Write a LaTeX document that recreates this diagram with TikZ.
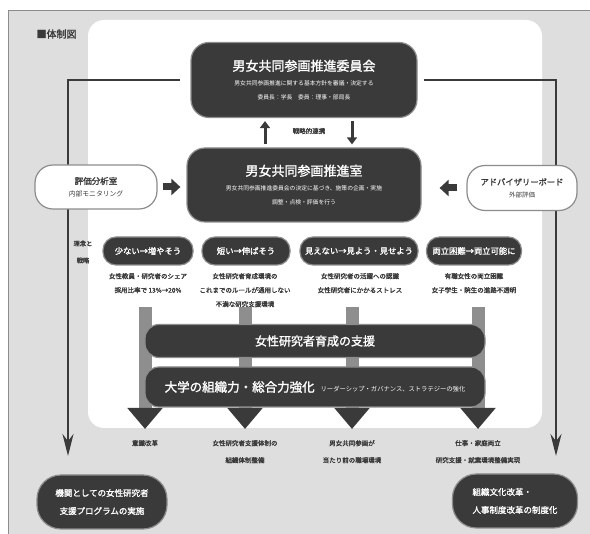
\documentclass[tikz,border=0pt]{standalone}
\usepackage{fontspec}
\newfontfamily\jp{Noto Sans CJK JP}
\newfontfamily\jpb[FakeBold=1.6]{Noto Sans CJK JP}
\usetikzlibrary{arrows.meta}

\definecolor{boxdark}{HTML}{3A3A3A}
\definecolor{panelgray}{HTML}{DEDEDE}
\definecolor{rimgray}{HTML}{8C8C8C}
\definecolor{shaftgray}{HTML}{8E8E8E}

\tikzset{
	darkbox/.style={draw=rimgray, line width=1.2pt, fill=boxdark, rounded corners=18pt,
		text=white, align=center, inner sep=0pt},
	lightbox/.style={draw=rimgray, line width=1.2pt, fill=white, rounded corners=18pt,
		text=boxdark, align=center, inner sep=0pt},
	pill/.style={darkbox, rounded corners=13pt, minimum height=28pt, font=\jpb\fontsize{8.3}{9}\selectfont},
	note/.style={text=boxdark, align=center, inner sep=0pt, font=\jpb\fontsize{6.5}{14}\selectfont},
	bar/.style={darkbox, rounded corners=14pt, minimum width=340pt},
	goal/.style={darkbox, rounded corners=24pt, minimum height=54pt, font=\jpb\fontsize{8.5}{18}\selectfont},
	longarr/.style={line width=2.4pt, draw=boxdark, -{Stealth[length=22pt,width=11pt]}},
	blockarr/.style={line width=13pt, draw=shaftgray, -{Triangle[length=21pt,width=34pt,color=boxdark]}},
	sidearr/.style={line width=7pt, draw=boxdark, -{Triangle[length=9pt,width=16pt]}},
	linkarr/.style={line width=3pt, draw=boxdark, -{Triangle[length=7pt,width=10pt]}},
}

\begin{document}
\begin{tikzpicture}[x=1pt, y=-1pt, >=Stealth]
	% 背景
	\useasboundingbox (0,0) rectangle (590,534);
	\fill[panelgray] (8,10) rectangle (590,534);
	\draw[rimgray, line width=0.8pt] (8,534) |- (590,10);
	\fill[white, rounded corners=16pt] (88,20) rectangle (542,428);
	\node[anchor=west, text=boxdark, font=\jpb\fontsize{10}{10}\selectfont] (title) at (33,34) {■体制図};

	% 委員会と推進室
	\node[darkbox, minimum width=226pt, minimum height=75pt] (committee) at (304,80)
		{{\jpb\fontsize{13}{16}\selectfont 男女共同参画推進委員会}\\[3pt]
		{\jp\fontsize{5.8}{9}\selectfont 男女共同参画推進に関する基本方針を審議・決定する}\\[2pt]
		{\jp\fontsize{5.8}{9}\selectfont 委員長：学長　委員：理事・部局長}};
	\node[darkbox, minimum width=234pt, minimum height=74pt] (office) at (304,185)
		{{\jpb\fontsize{13}{16}\selectfont 男女共同参画推進室}\\[3pt]
		{\jp\fontsize{5.8}{9}\selectfont 男女共同参画推進委員会の決定に基づき、施策の企画・実施}\\[2pt]
		{\jp\fontsize{5.8}{9}\selectfont 調整・点検・評価を行う}};
	\draw[linkarr, shorten <=3pt, shorten >=3pt] ([xshift=-39pt]office.north) -- ([xshift=-39pt]committee.south);
	\draw[linkarr, shorten <=3pt, shorten >=3pt] ([xshift=48pt]committee.south) -- ([xshift=48pt]office.north);
	\node[note, font=\jpb\fontsize{6.5}{8}\selectfont] (link) at (309,131) {戦略的連携};

	% 両側の長い矢印
	\coordinate (ltip) at (68,456);
	\coordinate (rtip) at (556,456);
	\draw[longarr, shorten <=10pt] (committee.west) -| (ltip);
	\draw[longarr, shorten <=6pt] (committee.east) -| (rtip);

	% 評価分析室とアドバイザリーボード
	\node[lightbox, minimum width=122pt, minimum height=44pt] (eval) at (96,187)
		{{\jpb\fontsize{8.5}{12}\selectfont 評価分析室}\\{\jp\fontsize{6.8}{11}\selectfont 内部モニタリング}};
	\node[lightbox, minimum width=110pt, minimum height=45pt] (board) at (522,188)
		{{\jpb\fontsize{8.3}{12}\selectfont アドバイザリーボード}\\{\jp\fontsize{6.5}{11}\selectfont 外部評価}};
	\draw[sidearr] ([xshift=5pt]eval.east) -- ([xshift=-6pt]eval.east -| office.west);
	\draw[sidearr] ([xshift=-9pt]board.west) -- ([xshift=18pt]board.west -| office.east);

	% 理念と戦略
	\node[note, font=\jpb\fontsize{6.3}{17}\selectfont] (aim) at (83,252) {理念と\\戦略};
	\node[pill, minimum width=90pt] (p1) at (148,251) {少ない→増やそう};
	\node[pill, minimum width=88pt] (p2) at (246,251) {短い→伸ばそう};
	\node[pill, minimum width=118pt] (p3) at (359,251) {見えない→見よう・見せよう};
	\node[pill, minimum width=95pt] (p4) at (474,251) {両立困難→両立可能に};

	\node[note, anchor=north] (n1) at (148,273) {女性教員・研究者のシェア\\採用比率で 13\%→20\%};
	\node[note, anchor=north] (n2) at (245,273) {女性研究者育成環境の\\これまでのルールが通用しない\\不満な研究支援環境};
	\node[note, anchor=north] (n3) at (360,273) {女性研究者の活躍への認識\\女性研究者にかかるストレス};
	\node[note, anchor=north] (n4) at (474,273) {有職女性の両立困難\\女子学生・院生の進路不透明};

	% 成果
	\node[note, anchor=north, font=\jpb\fontsize{6.5}{17}\selectfont] (o1) at (145,440) {意識改革};
	\node[note, anchor=north, font=\jpb\fontsize{6.5}{17}\selectfont] (o2) at (245,440) {女性研究者支援体制の\\組織体制整備};
	\node[note, anchor=north, font=\jpb\fontsize{6.5}{17}\selectfont] (o3) at (352,440) {男女共同参画が\\当たり前の職場環境};
	\node[note, anchor=north, font=\jpb\fontsize{6.5}{17}\selectfont] (o4) at (478,440) {仕事・家庭両立\\研究支援・就業環境整備実現};

	\foreach \i in {1,...,4}
		\draw[blockarr, shorten >=11pt] (o\i.north |- n2.south) -- (o\i.north);

	% 支援と強化
	\node[bar, minimum height=33pt, font=\jpb\fontsize{12}{14}\selectfont] (support) at (315,341) {女性研究者育成の支援};
	\node[bar, minimum height=40pt] (strength) at (315,387)
		{{\jpb\fontsize{12.5}{14}\selectfont 大学の組織力・総合力強化}\hspace{6pt}{\jp\fontsize{6.3}{7}\selectfont リーダーシップ・ガバナンス、ストラテジーの強化}};

	% 最終目標
	\node[goal, minimum width=130pt] (gl) at (102,502) {機関としての女性研究者\\支援プログラムの実施};
	\node[goal, minimum width=125pt, align=left] (gr) at (515,501) {組織文化改革・\\人事制度改革の制度化};
\end{tikzpicture}
\end{document}
